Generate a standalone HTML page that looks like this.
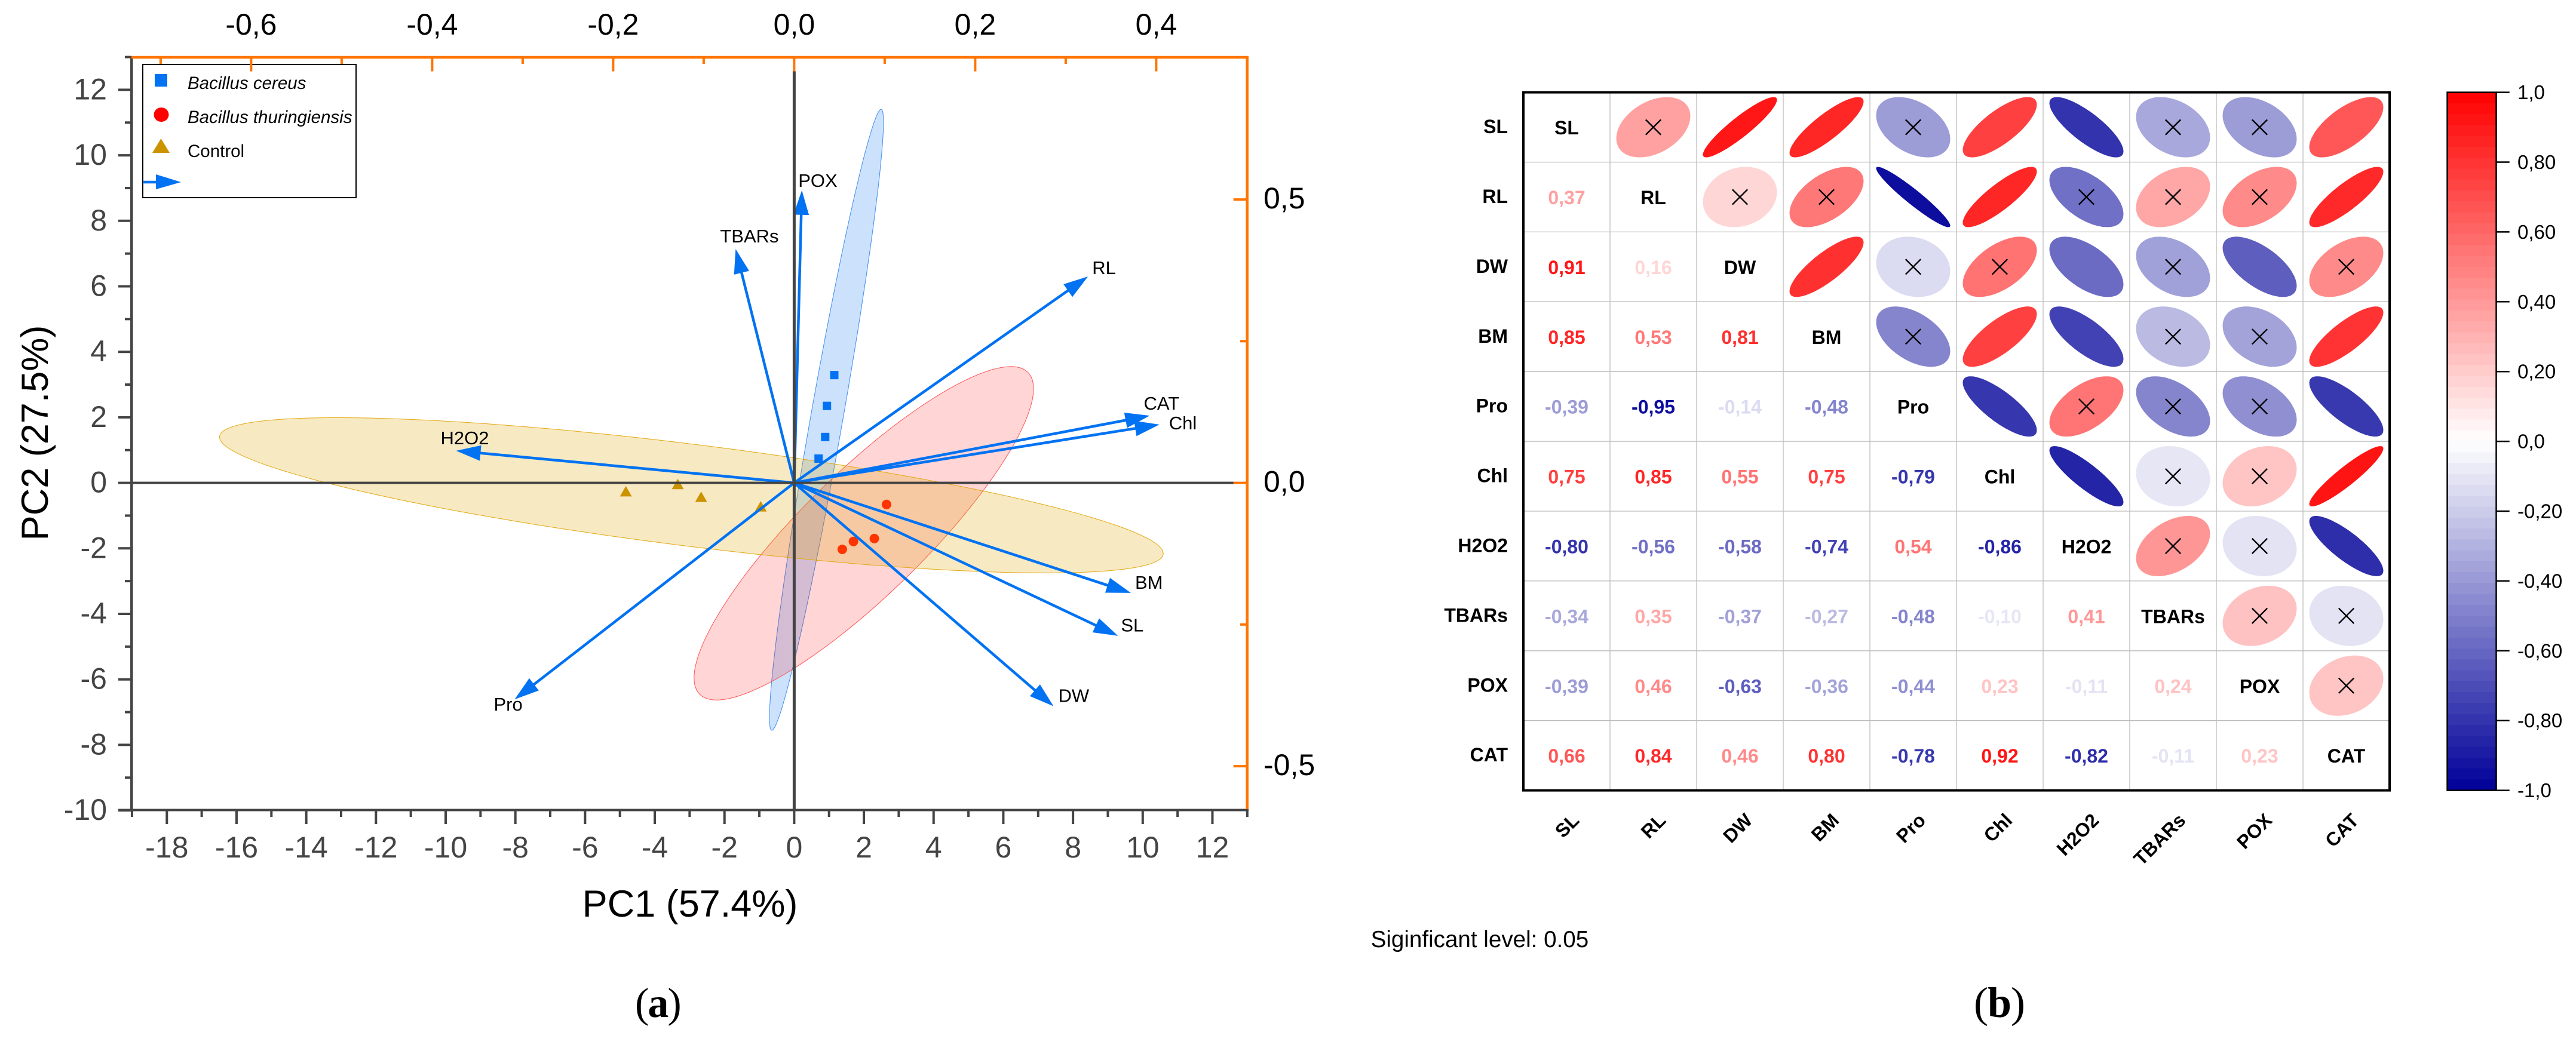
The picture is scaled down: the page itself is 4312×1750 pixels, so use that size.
<!DOCTYPE html>
<html lang="en">
<head>
<meta charset="utf-8">
<title>PCA biplot and correlation matrix</title>
<style>
html,body{margin:0;padding:0;background:#fff;}
svg{display:block;font-family:"Liberation Sans",Arial,sans-serif;}
</style>
</head>
<body>
<svg id="fig" xmlns="http://www.w3.org/2000/svg" width="4312" height="1750" viewBox="0 0 4312 1750">
  <rect x="0" y="0" width="4312" height="1750" fill="#fff"/>
  <g id="pca"></g>
  <g id="pca-legend">
    <rect x="239" y="108" width="357" height="223" fill="none" stroke="#000" stroke-width="2"/>
    <rect x="259" y="124" width="21" height="21" fill="#0072f2"/>
    <text x="314" y="149" font-size="29.5" font-style="italic" fill="#000">Bacillus cereus</text>
    <ellipse cx="270" cy="192" rx="12.5" ry="12" fill="#ff0000"/>
    <text x="314" y="206" font-size="29.5" font-style="italic" fill="#000">Bacillus thuringiensis</text>
    <polygon points="255,256 284,256 269.5,232" fill="#cc9300"/>
    <text x="314" y="263" font-size="29.5" fill="#000">Control</text>
    <line x1="239" y1="305" x2="265" y2="305" stroke="#0072f2" stroke-width="4.5"/>
    <polygon points="303,305 261,292 261,317" fill="#0072f2"/>
  </g>
  <g id="pca-ticks"></g>
  <text x="1155" y="1535" font-size="63" text-anchor="middle" fill="#000">PC1 (57.4%)</text>
  <text transform="translate(80,725) rotate(-90)" font-size="63" text-anchor="middle" fill="#000">PC2 (27.5%)</text>
  <text x="1063" y="1703" font-size="70" letter-spacing="-2" font-family="'Liberation Serif',serif" fill="#000">(<tspan font-weight="bold">a</tspan>)</text>

  <g id="corr"></g>
  <g id="cbar"></g>
  <text x="2294.6" y="1586" font-size="38.6" fill="#000">Siginficant level: 0.05</text>
  <text x="3304" y="1703" font-size="72" letter-spacing="-1" font-family="'Liberation Serif',serif" fill="#000">(<tspan font-weight="bold">b</tspan>)</text>
</svg>
<script>
// ---------- PCA data ----------
const bottomTicks = [-18,-16,-14,-12,-10,-8,-6,-4,-2,0,2,4,6,8,10,12];
const bottomMinorTicks = [-19,-17,-15,-13,-11,-9,-7,-5,-3,-1,1,3,5,7,9,11,13];
const leftTicks = [-10,-8,-6,-4,-2,0,2,4,6,8,10,12];
const leftMinorTicks = [-9,-7,-5,-3,-1,1,3,5,7,9,11,13];
const topTicks = [-0.6,-0.4,-0.2,0,0.2,0.4];
const topMinorTicks = [-0.7,-0.5,-0.3,-0.1,0.1,0.3];
const rightTicks = [-0.5,0,0.5];
const rightMinorTicks = [-0.25,0.25];

const loadingNames = ['SL','RL','DW','BM','Pro','Chl','H2O2','TBARs','POX','CAT'];
const loadingX = [9.29,8.43,7.44,9.66,-8.02,10.48,-9.70,-1.68,0.22,10.20];
const loadingY = [-4.67,6.30,-6.82,-3.36,-6.61,1.78,0.98,7.14,8.93,2.05];

const cereusX = [1.15,0.94,0.89,0.70];
const cereusY = [3.29,2.35,1.40,0.74];
const thuringiensisX = [2.65,2.30,1.70,1.38];
const thuringiensisY = [-0.66,-1.70,-1.79,-2.03];
const controlX = [-4.83,-3.34,-2.67,-0.96];
const controlY = [-0.26,-0.04,-0.43,-0.72];

const ellipseGroups = ['cereus','thuringiensis','control'];
const ellipseCenterX = [0.926,1.997,-2.95];
const ellipseCenterY = [1.925,-1.54,-0.38];
const ellipseSpreadX = [1.635,4.87,13.54];
const ellipseSpreadY = [9.48,5.09,2.37];
const ellipseRho = [0.958,0.867,-0.75];

// ---------- Correlation data ----------
const corrLabels = ['SL','RL','DW','BM','Pro','Chl','H2O2','TBARs','POX','CAT'];
const corrLower = [
  [],
  [0.37],
  [0.91,0.16],
  [0.85,0.53,0.81],
  [-0.39,-0.95,-0.14,-0.48],
  [0.75,0.85,0.55,0.75,-0.79],
  [-0.80,-0.56,-0.58,-0.74,0.54,-0.86],
  [-0.34,0.35,-0.37,-0.27,-0.48,-0.10,0.41],
  [-0.39,0.46,-0.63,-0.36,-0.44,0.23,-0.11,0.24],
  [0.66,0.84,0.46,0.80,-0.78,0.92,-0.82,-0.11,0.23]
];
const significanceCutoff = [0.57];
const colorbarTicks = [1,0.8,0.6,0.4,0.2,0,-0.2,-0.4,-0.6,-0.8,-1];
const colorbarTickText = ['1,0','0,80','0,60','0,40','0,20','0,0','-0,20','-0,40','-0,60','-0,80','-1,0'];

// ---------- Helpers ----------
const NS = 'http://www.w3.org/2000/svg';
function mk(parent, tag, attrs, text) {
  const e = document.createElementNS(NS, tag);
  for (const k in attrs) e.setAttribute(k, attrs[k]);
  if (text !== undefined) e.textContent = text;
  parent.appendChild(e);
  return e;
}
const INK = '#444444', ORANGE = '#ff7500', BLUE = '#0072f2', GOLD = '#cc9300', PLOTRED = '#ff3500';

// Axis functions
const xScale = v => 1329.4 + 58.34 * v;
const yScale = v => 808.6 - 54.85 * v;
const topScale = v => 1329.4 + 1515 * v;
const rightScale = v => 808.6 - 949 * v;
const commaText = (v, d) => v.toFixed(d).replace('.', ',');

// ---------- PCA: ellipses ----------
const pca = document.getElementById('pca');
const ellipseFill = {cereus:['#0070f0',0.2,'#3d8cf0'], thuringiensis:['#ff0000',0.165,'#ff5050'], control:['#dca500',0.24,'#e2a80f']};
function ellipsePath(cx, cy, sx, sy, rho) {
  let d = '';
  const q = Math.sqrt(1 - rho * rho);
  for (let i = 0; i < 180; i++) {
    const t = i / 180 * 2 * Math.PI;
    const X = cx + sx * Math.cos(t);
    const Y = cy + sy * (rho * Math.cos(t) + q * Math.sin(t));
    d += (i ? 'L' : 'M') + xScale(X).toFixed(1) + ' ' + yScale(Y).toFixed(1);
  }
  return d + 'Z';
}
ellipseGroups.forEach((g, i) => {
  const st = ellipseFill[g];
  const el = mk(pca, 'path', {d: ellipsePath(ellipseCenterX[i], ellipseCenterY[i], ellipseSpreadX[i], ellipseSpreadY[i], ellipseRho[i]), fill: st[0], 'fill-opacity': st[1], stroke: st[2], 'stroke-width': 1});
  
  
});

// Points
cereusX.forEach((x, i) => {
  const px = xScale(x), py = yScale(cereusY[i]);
  const el = mk(pca, 'rect', {x: px - 7, y: py - 7, width: 14, height: 14, fill: BLUE});
  
  
});
thuringiensisX.forEach((x, i) => {
  const el = mk(pca, 'ellipse', {cx: xScale(x), cy: yScale(thuringiensisY[i]), rx: 8, ry: 8, fill: PLOTRED});
  
  
});
controlX.forEach((x, i) => {
  const px = xScale(x), py = yScale(controlY[i]);
  const el = mk(pca, 'polygon', {points: (px - 10) + ',' + (py + 8.5) + ' ' + (px + 10) + ',' + (py + 8.5) + ' ' + px + ',' + (py - 9), fill: GOLD});
  
  
});

// Loading arrows
const labelNudge = {POX:[-6,-6],TBARs:[-26,-11],RL:[7,-4],CAT:[-10,-10],Chl:[16,8],H2O2:[-26,-11],Pro:[-35,19],BM:[7,-7],SL:[5,-7],DW:[8,-7]};
loadingNames.forEach((name, i) => {
  const x0 = xScale(0), y0 = yScale(0), tx = xScale(loadingX[i]), ty = yScale(loadingY[i]);
  const dx = tx - x0, dy = ty - y0, len = Math.hypot(dx, dy), ux = dx / len, uy = dy / len;
  const L = 41, W = 13;
  const shaft = mk(pca, 'line', {x1: x0, y1: y0, x2: tx - ux * L * 0.9, y2: ty - uy * L * 0.9, stroke: BLUE, 'stroke-width': 4.5});
  
  
  const bx = tx - ux * L, by = ty - uy * L;
  const head = mk(pca, 'polygon', {points: tx + ',' + ty + ' ' + (bx - uy * W) + ',' + (by + ux * W) + ' ' + (bx + uy * W) + ',' + (by - ux * W), fill: BLUE});
  
  
  const n = labelNudge[name];
  const lab = mk(pca, 'text', {x: tx + n[0], y: ty + n[1], 'font-size': 31, fill: '#000'}, name);
  
  
});

// Zero lines (on top of the arrows, as in the reference)
const zeroH = mk(pca, 'line', {x1: xScale(-19), x2: 2065, y1: yScale(0), y2: yScale(0), stroke: INK, 'stroke-width': 4});


const zeroV = mk(pca, 'line', {x1: xScale(0), x2: xScale(0), y1: 119.5, y2: yScale(-10), stroke: INK, 'stroke-width': 5});



// ---------- PCA: axes ----------
const ax = document.getElementById('pca-ticks');
bottomTicks.forEach(v => {
  const t = mk(ax, 'line', {x1: xScale(v), x2: xScale(v), y1: 1356, y2: 1380, stroke: INK, 'stroke-width': 4});
  
  
  const l = mk(ax, 'text', {x: xScale(v), y: 1436, 'font-size': 50, 'text-anchor': 'middle', fill: INK}, String(v));
  
  
});
bottomMinorTicks.forEach(v => {
  const t = mk(ax, 'line', {x1: xScale(v), x2: xScale(v), y1: 1356, y2: 1368, stroke: INK, 'stroke-width': 4});
  
  
});
leftTicks.forEach(v => {
  const t = mk(ax, 'line', {x1: 198, x2: 220, y1: yScale(v), y2: yScale(v), stroke: INK, 'stroke-width': 4});
  
  
  const l = mk(ax, 'text', {x: 179, y: yScale(v) + 16, 'font-size': 50, 'text-anchor': 'end', fill: INK}, String(v));
  
  
});
leftMinorTicks.forEach(v => {
  const t = mk(ax, 'line', {x1: 209, x2: 220, y1: yScale(v), y2: yScale(v), stroke: INK, 'stroke-width': 4});
  
  
});
topTicks.forEach(v => {
  const t = mk(ax, 'line', {x1: topScale(v), x2: topScale(v), y1: 96, y2: 119.5, stroke: ORANGE, 'stroke-width': 4});
  
  
  const l = mk(ax, 'text', {x: topScale(v), y: 58, 'font-size': 50, 'text-anchor': 'middle', fill: '#000'}, commaText(v, 1));
  
  
});
topMinorTicks.forEach(v => {
  const t = mk(ax, 'line', {x1: topScale(v), x2: topScale(v), y1: 96, y2: 107, stroke: ORANGE, 'stroke-width': 4});
  
  
});
rightTicks.forEach(v => {
  const t = mk(ax, 'line', {x1: 2064.6, x2: 2088, y1: rightScale(v), y2: rightScale(v), stroke: ORANGE, 'stroke-width': 4});
  
  
  const l = mk(ax, 'text', {x: 2115, y: rightScale(v) + 15, 'font-size': 50, fill: '#000'}, commaText(v, 1));
  
  
});
rightMinorTicks.forEach(v => {
  const t = mk(ax, 'line', {x1: 2076, x2: 2088, y1: rightScale(v), y2: rightScale(v), stroke: ORANGE, 'stroke-width': 4});
  
  
});
const spineL = mk(ax, 'line', {x1: 220.3, x2: 220.3, y1: 96, y2: 1358, stroke: INK, 'stroke-width': 4.5});


const spineB = mk(ax, 'line', {x1: 198, x2: 2090, y1: 1356.5, y2: 1356.5, stroke: INK, 'stroke-width': 4});


const spineT = mk(ax, 'line', {x1: 220, x2: 2090, y1: 96, y2: 96, stroke: ORANGE, 'stroke-width': 4.5});


const spineR = mk(ax, 'line', {x1: 2087.7, x2: 2087.7, y1: 94, y2: 1355, stroke: ORANGE, 'stroke-width': 4.5});



// ---------- Correlation matrix ----------
const corr = document.getElementById('corr');
const M_LEFT = 2550, M_TOP = 154.6, CELL_W = 145, CELL_H = 116.9, N = corrLabels.length;
const colX = i => M_LEFT + CELL_W * (i + 0.5);
const rowY = i => M_TOP + CELL_H * (i + 0.5);
function corrColor(v) {
  if (v >= 0) {
    const c = Math.round(255 * (1 - v));
    return 'rgb(255,' + c + ',' + c + ')';
  }
  const a = -v;
  return 'rgb(' + Math.round(255 * (1 - a)) + ',' + Math.round(255 * (1 - a)) + ',' + Math.round(255 - 102 * a) + ')';
}
for (let i = 1; i < N; i++) {
  const gv = mk(corr, 'line', {x1: M_LEFT + CELL_W * i, x2: M_LEFT + CELL_W * i, y1: M_TOP, y2: M_TOP + CELL_H * N, stroke: '#bcbcbc', 'stroke-width': 1.3});
  
  
  const gh = mk(corr, 'line', {x1: M_LEFT, x2: M_LEFT + CELL_W * N, y1: M_TOP + CELL_H * i, y2: M_TOP + CELL_H * i, stroke: '#bcbcbc', 'stroke-width': 1.3});
  
  
}
corrLabels.forEach((name, r) => {
  const rowLab = mk(corr, 'text', {x: 2524, y: rowY(r) + 10, 'font-size': 32, 'font-weight': 'bold', 'text-anchor': 'end', fill: '#000'}, name);
  
  
  const diag = mk(corr, 'text', {x: colX(r), y: rowY(r) + 12, 'font-size': 32, 'font-weight': 'bold', 'text-anchor': 'middle', fill: '#000'}, name);
  
  
  const colLab = mk(corr, 'text', {transform: 'translate(' + (colX(r) + 15) + ',1368) rotate(-45)', x: 0, y: 11, 'font-size': 32, 'font-weight': 'bold', 'text-anchor': 'end', fill: '#000'}, name);
  
  
});
function cellEllipse(cx, cy, rho) {
  const sx = 62, sy = 50.5, q = Math.sqrt(1 - rho * rho);
  let d = '';
  for (let i = 0; i < 90; i++) {
    const t = i / 90 * 2 * Math.PI;
    d += (i ? 'L' : 'M') + (cx + sx * Math.cos(t)).toFixed(1) + ' ' + (cy - sy * (rho * Math.cos(t) + q * Math.sin(t))).toFixed(1);
  }
  return d + 'Z';
}
corrLower.forEach((row, r) => {
  row.forEach((v, c) => {
    const col = corrColor(v);
    const val = mk(corr, 'text', {x: colX(c), y: rowY(r) + 12, 'font-size': 32, 'font-weight': 'bold', 'text-anchor': 'middle', fill: col}, commaText(v, 2));
    
    
    const cx = colX(r), cy = rowY(c);
    const ell = mk(corr, 'path', {d: cellEllipse(cx, cy, v), fill: col});
    
    
    if (Math.abs(v) < significanceCutoff[0]) {
      const cross = mk(corr, 'path', {d: 'M' + (cx - 12.7) + ' ' + (cy - 12.7) + 'L' + (cx + 12.7) + ' ' + (cy + 12.7) + 'M' + (cx + 12.7) + ' ' + (cy - 12.7) + 'L' + (cx - 12.7) + ' ' + (cy + 12.7), stroke: '#000', 'stroke-width': 2.4, fill: 'none'});
      
      
    }
  });
});
const frame = mk(corr, 'rect', {x: M_LEFT, y: M_TOP, width: CELL_W * N, height: CELL_H * N, fill: 'none', stroke: '#000', 'stroke-width': 4});



// ---------- Color bar ----------
const cbar = document.getElementById('cbar');
const CB_X = 4096.5, CB_W = 82, CB_TOP = 154.6, CB_H = 1169, CB_BANDS = 64;
const cbScale = v => CB_TOP + CB_H * (1 - v) / 2;
for (let i = 0; i < CB_BANDS; i++) {
  const hi = 1 - 2 * i / CB_BANDS, lo = 1 - 2 * (i + 1) / CB_BANDS;
  const band = mk(cbar, 'rect', {x: CB_X, y: cbScale(hi), width: CB_W, height: cbScale(lo) - cbScale(hi) + 0.6, fill: corrColor((hi + lo) / 2)});
  
  
}
const cbFrame = mk(cbar, 'rect', {x: CB_X, y: CB_TOP, width: CB_W, height: CB_H, fill: 'none', stroke: '#000', 'stroke-width': 2.5});


colorbarTicks.forEach((v, i) => {
  const t = mk(cbar, 'line', {x1: CB_X + CB_W, x2: 4200.7, y1: cbScale(v), y2: cbScale(v), stroke: '#000', 'stroke-width': 2.5});
  
  
  const l = mk(cbar, 'text', {x: 4214, y: cbScale(v) + 11.5, 'font-size': 33, fill: '#000'}, colorbarTickText[i]);
  
  
});
</script>
</body>
</html>
